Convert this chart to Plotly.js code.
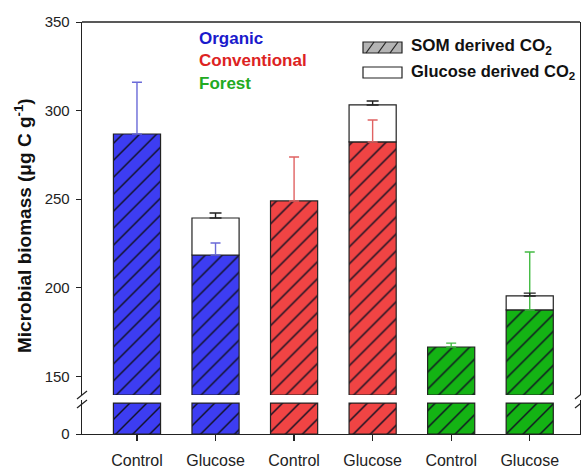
<!DOCTYPE html>
<html>
<head>
<meta charset="utf-8">
<script src="https://cdn.plot.ly/plotly-3.0.1.min.js"></script>
<style>html,body{margin:0;padding:0;background:#fff;}#chart{width:581px;height:468px;}</style>
</head>
<body>
<div id="chart"></div>
<script>
// ---- data ----
const categories = ['Control', 'Glucose', 'Control ', 'Glucose ', 'Control  ', 'Glucose  '];
const tickLabels = ['Control', 'Glucose', 'Control', 'Glucose', 'Control', 'Glucose'];
const groups = ['Organic', 'Organic', 'Conventional', 'Conventional', 'Forest', 'Forest'];
const somValues = [286.8, 218.5, 249.0, 282.3, 166.6, 187.5];      // SOM derived part (top of hatched bar)
const somErrorTop = [316.0, 225.3, 273.8, 294.7, 168.8, 220.2];    // upper end of SOM error bar
const totalValues = [null, 239.4, null, 303.2, null, 195.4];       // SOM + glucose derived
const totalErrorTop = [null, 242.2, null, 305.4, null, 197.0];     // upper end of total error bar
const yTicksUpper = [150, 200, 250, 300, 350];
const yTicksLower = [0];
const breakLow = 139.5;   // lowest value shown in upper segment
const stub = 10;          // height of the stub drawn in the lower segment

// ---- styles ----
const barColors = {Organic: '#3d3df2', Conventional: '#f04444', Forest: '#14b314'};
const errColors = {Organic: '#6a6ad8', Conventional: '#e06262', Forest: '#44bb44'};
const textColors = {Organic: '#1a1acc', Conventional: '#dd2222', Forest: '#22aa22'};
const FONT = 'Liberation Sans, Arial, sans-serif';
const outline = {color: '#222', width: 1.2};

const glucosePart = totalValues.map((t, i) => t == null ? null : t - somValues[i]);
const groupNames = ['Organic', 'Conventional', 'Forest'];
const idxOf = g => groups.map((gg, i) => gg === g ? i : -1).filter(i => i >= 0);

const traces = [];
groupNames.forEach(g => {
  const idx = idxOf(g);
  const pat = {shape: '/', fillmode: 'overlay', bgcolor: barColors[g], fgcolor: '#111122', fgopacity: 1, size: 12, solidity: 0.12};
  // upper segment SOM bars
  traces.push({type: 'bar', x: idx.map(i => categories[i]), y: idx.map(i => somValues[i] - breakLow), base: breakLow,
    yaxis: 'y2', width: 0.6, marker: {color: barColors[g], pattern: pat, line: outline},
    showlegend: false, hoverinfo: 'skip'});
  // lower stub bars
  traces.push({type: 'bar', x: idx.map(i => categories[i]), y: idx.map(() => stub), base: 0,
    yaxis: 'y', width: 0.6, marker: {color: barColors[g], pattern: pat, line: outline},
    showlegend: false, hoverinfo: 'skip'});
});
// upper segment glucose bars
traces.push({type: 'bar', x: categories, y: glucosePart, base: somValues,
  yaxis: 'y2', width: 0.6, marker: {color: '#ffffff', line: outline},
  showlegend: false, hoverinfo: 'skip'});

// error bars per group colour
groupNames.forEach(g => {
  const idx = idxOf(g);
  traces.push({type: 'scatter', mode: 'markers', yaxis: 'y2',
    x: idx.map(i => categories[i]), y: idx.map(i => somValues[i]),
    marker: {size: 1, opacity: 0},
    error_y: {type: 'data', symmetric: false, array: idx.map(i => somErrorTop[i] - somValues[i]),
      arrayminus: idx.map(() => 0), color: errColors[g], thickness: 1.4, width: 5},
    showlegend: false, hoverinfo: 'skip'});
});
// total error bars (black)
const tIdx = totalValues.map((t, i) => t == null ? -1 : i).filter(i => i >= 0);
traces.push({type: 'scatter', mode: 'markers', yaxis: 'y2',
  x: tIdx.map(i => categories[i]), y: tIdx.map(i => totalValues[i]),
  marker: {size: 1, opacity: 0},
  error_y: {type: 'data', symmetric: false, array: tIdx.map(i => totalErrorTop[i] - totalValues[i]),
    arrayminus: tIdx.map(() => 0), color: '#222', thickness: 1.4, width: 6},
  showlegend: false, hoverinfo: 'skip'});

// pixel -> paper helpers (plot area 82..580 x 22..434)
const L = 82, R = 580, T = 22, B = 434;
const xp = px => (px - L) / (R - L);
const yp = py => (B - py) / (B - T);

const shapes = [
  // top border
  {type: 'line', xref: 'paper', yref: 'paper', x0: 0, x1: 1, y0: 1, y1: 1, line: {color: '#222', width: 1.3}},
  // left break marks
  {type: 'line', xref: 'paper', yref: 'paper', x0: xp(77), x1: xp(87), y0: yp(399), y1: yp(391), line: {color: '#222', width: 1.2}},
  {type: 'line', xref: 'paper', yref: 'paper', x0: xp(77), x1: xp(87), y0: yp(408), y1: yp(400), line: {color: '#222', width: 1.2}},
  // right break marks
  {type: 'line', xref: 'paper', yref: 'paper', x0: xp(575), x1: xp(585), y0: yp(399), y1: yp(391), line: {color: '#222', width: 1.2}},
  {type: 'line', xref: 'paper', yref: 'paper', x0: xp(575), x1: xp(585), y0: yp(408), y1: yp(400), line: {color: '#222', width: 1.2}},
  // legend swatches
  {type: 'rect', xref: 'paper', yref: 'paper', x0: xp(363), x1: xp(402), y0: yp(53), y1: yp(42), fillcolor: '#b4b4b4', line: {color: '#222', width: 1.2}},
  {type: 'line', xref: 'paper', yref: 'paper', x0: xp(366), x1: xp(374), y0: yp(53), y1: yp(42), line: {color: '#222', width: 1.2}},
  {type: 'line', xref: 'paper', yref: 'paper', x0: xp(378), x1: xp(386), y0: yp(53), y1: yp(42), line: {color: '#222', width: 1.2}},
  {type: 'line', xref: 'paper', yref: 'paper', x0: xp(390), x1: xp(398), y0: yp(53), y1: yp(42), line: {color: '#222', width: 1.2}},
  {type: 'rect', xref: 'paper', yref: 'paper', x0: xp(363), x1: xp(402), y0: yp(78), y1: yp(67), fillcolor: '#ffffff', line: {color: '#222', width: 1.2}}
];

const annotations = [
  {text: 'Organic', x: xp(197), y: yp(39), xref: 'paper', yref: 'paper', xanchor: 'left', yanchor: 'middle', showarrow: false,
    font: {family: FONT, size: 17, color: textColors.Organic, weight: 'bold'}},
  {text: 'Conventional', x: xp(197), y: yp(61), xref: 'paper', yref: 'paper', xanchor: 'left', yanchor: 'middle', showarrow: false,
    font: {family: FONT, size: 17, color: textColors.Conventional, weight: 'bold'}},
  {text: 'Forest', x: xp(197), y: yp(83), xref: 'paper', yref: 'paper', xanchor: 'left', yanchor: 'middle', showarrow: false,
    font: {family: FONT, size: 17, color: textColors.Forest, weight: 'bold'}},
  {text: 'SOM derived CO<sub>2</sub>', x: xp(409), y: yp(47), xref: 'paper', yref: 'paper', xanchor: 'left', yanchor: 'middle', showarrow: false,
    font: {family: FONT, size: 17, color: '#111', weight: 'bold'}},
  {text: 'Glucose derived CO<sub>2</sub>', x: xp(409), y: yp(72), xref: 'paper', yref: 'paper', xanchor: 'left', yanchor: 'middle', showarrow: false,
    font: {family: FONT, size: 16.5, color: '#111', weight: 'bold'}},
  {text: 'Microbial biomass (μg C g<sup>-1</sup>)', x: xp(23), y: yp(226), xref: 'paper', yref: 'paper', xanchor: 'center', yanchor: 'middle',
    textangle: -90, showarrow: false, font: {family: FONT, size: 19, color: '#111', weight: 'bold'}}
];

const axisFont = {family: FONT, size: 15, color: '#222'};
const layout = {
  width: 581, height: 468,
  margin: {l: L, r: 581 - R, t: T, b: 468 - B, pad: 0},
  paper_bgcolor: '#fff', plot_bgcolor: '#fff',
  barmode: 'overlay', showlegend: false,
  xaxis: {type: 'category', categoryarray: categories, categoryorder: 'array', range: [-0.7, 5.64], anchor: 'y',
    showline: true, linecolor: '#222', linewidth: 1.3,
    ticks: 'outside', ticklen: 6, tickcolor: '#222', tickwidth: 1.2, showgrid: false, zeroline: false,
    tickvals: categories, ticktext: tickLabels, tickfont: {family: FONT, size: 16, color: '#222'}, ticklabelstandoff: 5},
  yaxis: {domain: [0, (B - 400) / (B - T)], range: [0, 11], tickvals: yTicksLower, ticks: 'outside', ticklen: 5,
    tickcolor: '#222', tickfont: axisFont, showline: true, mirror: true, linecolor: '#222', linewidth: 1.3,
    showgrid: false, zeroline: false, ticklabelstandoff: 3},
  yaxis2: {domain: [(B - 395) / (B - T), 1], range: [breakLow, 350], tickvals: yTicksUpper, ticks: 'outside', ticklen: 5,
    tickcolor: '#222', tickfont: axisFont, showline: true, mirror: true, linecolor: '#222', linewidth: 1.3,
    showgrid: false, zeroline: false, anchor: 'x', ticklabelstandoff: 3},
  shapes: shapes,
  annotations: annotations
};

Plotly.newPlot('chart', traces, layout, {staticPlot: true, displayModeBar: false});
</script>
</body>
</html>
